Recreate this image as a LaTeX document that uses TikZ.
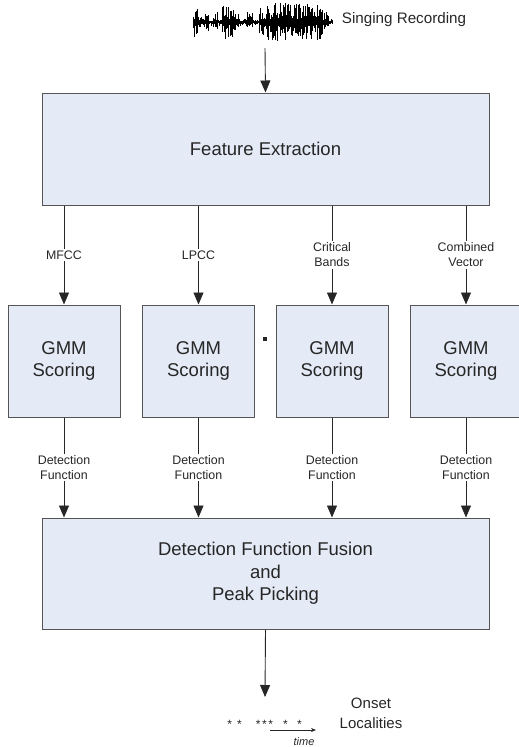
\documentclass[tikz,border=0pt]{standalone}
\usepackage{fontspec}
\setmainfont{Liberation Sans}
\usetikzlibrary{arrows.meta}
\definecolor{boxfill}{RGB}{228,234,246}
\definecolor{boxline}{RGB}{85,85,85}

\begin{document}
\begin{tikzpicture}[x=1pt, y=-1pt,
    box/.style={rectangle, draw=boxline, fill=boxfill, line width=1pt, align=center, text=black!85, font=\fontsize{18.5}{22.5}\selectfont},
    gmm/.style={box, minimum width=112pt, minimum height=112pt},
    lab/.style={fill=white, align=center, inner sep=1.5pt, text=black!85, font=\fontsize{12.4}{15}\selectfont},
    flow/.style={draw=black!85, line width=0.9pt, -{Triangle[length=12pt,width=10pt]}}
]
    \useasboundingbox (0,0) rectangle (519,747);

    % Singing recording (waveform)
    \pgfmathsetseed{42}
    \draw[line width=1.6pt] (193,22) -- (333,22);
    \foreach \a/\b/\h in {193/197/15, 198/204/6, 205/208/13, 209/213/5, 214/217/12, 218/221/4,
                          222/233/17, 234/238/8, 239/246/4, 247/252/10, 253/258/3, 259/266/14,
                          267/300/19, 301/322/18, 323/328/10, 329/332/3}{
        \foreach \x in {\a,...,\b}{
            \pgfmathsetmacro{\up}{\h*(0.15+0.85*rnd)}
            \pgfmathsetmacro{\dn}{\h*(0.15+0.85*rnd)}
            \draw[line width=0.8pt] (\x,22-\up) -- (\x,22+\dn);
        }
    }
    \node[text=black!85, font=\fontsize{15.2}{18}\selectfont] (rec) at (404,20) {Singing Recording};
    \coordinate (wav) at (265,48);

    % Feature extraction
    \node[box, minimum width=447pt, minimum height=112pt] (fe) at (265.5,149) {Feature Extraction};
    \draw[flow] (wav) -- (fe.north);

    % GMM scoring
    \node[gmm] (g1) at (64,361) {GMM\\Scoring};
    \node[gmm] (g2) at (198.5,361) {GMM\\Scoring};
    \node[gmm] (g3) at (332,361) {GMM\\Scoring};
    \node[gmm] (g4) at (466,361) {GMM\\Scoring};
    \fill[black!85] (263,337) rectangle (267,341);

    \draw[flow] (fe.south -| g1.north) -- node[lab] {MFCC} (g1.north);
    \draw[flow] (fe.south -| g2.north) -- node[lab] {LPCC} (g2.north);
    \draw[flow] (fe.south -| g3.north) -- node[lab] {Critical\\Bands} (g3.north);
    \draw[flow] (fe.south -| g4.north) -- node[lab] {Combined\\Vector} (g4.north);

    % Fusion
    \node[box, minimum width=447pt, minimum height=111pt] (fus) at (265.5,573.5)
        {Detection Function Fusion\\and\\Peak Picking};

    \foreach \g in {g1,g2,g3,g4}{
        \draw[flow] (\g.south) -- node[lab] {Detection\\Function} (\g.south |- fus.north);
    }

    % Onsets
    \coordinate (outp) at (265,697);
    \draw[flow] (fus.south) -- (outp);
    \node[inner sep=0pt, text=black!85, font=\fontsize{12}{14}\selectfont] (stars) at (264.5,724)
        {*\hspace{5.2pt}*\hspace{14.2pt}*\hspace{1.5pt}*\hspace{1.5pt}*\hspace{10.2pt}*\hspace{9.2pt}*};
    \coordinate (t0) at (270,730);
    \coordinate (t1) at (316,730);
    \draw[black!85, line width=0.7pt, -{Stealth[length=5pt,width=4pt]}] (t0) -- (t1);
    \node[text=black!85, font=\fontsize{11}{13}\selectfont\itshape] (time) at (304,742) {time};
    \node[align=center, text=black!85, font=\fontsize{15}{20}\selectfont] (loc) at (371,713) {Onset\\Localities};
\end{tikzpicture}
\end{document}
